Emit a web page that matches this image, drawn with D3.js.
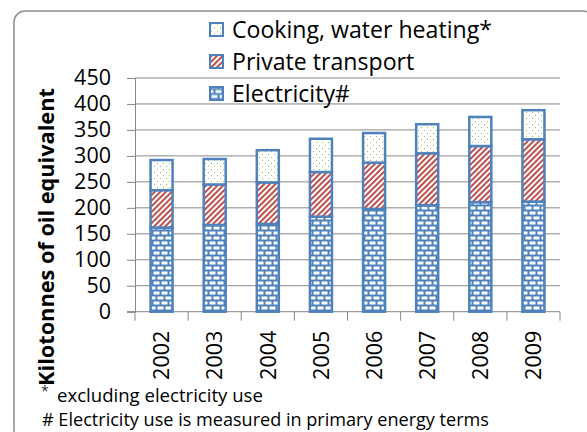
<!DOCTYPE html>
<html>
<head>
<meta charset="utf-8">
<script src="https://cdn.jsdelivr.net/npm/d3@7"></script>
<style>
  body { margin: 0; background: #fff; }
  svg { display: block; font-family: "Open Sans", sans-serif; }
</style>
</head>
<body>
<svg id="chart" width="587" height="432"></svg>
<script>
// values (kilotonnes of oil equivalent)
var years = ["2002", "2003", "2004", "2005", "2006", "2007", "2008", "2009"];
var electricity = [162, 167, 169, 183, 198, 205, 211, 212];
var transport = [72, 78, 80, 86, 89, 100, 108, 120];
var cooking = [58, 49, 62, 64, 57, 56, 56, 56];
var yTicks = [0, 50, 100, 150, 200, 250, 300, 350, 400, 450];
var seriesNames = ["Electricity#", "Private transport", "Cooking, water heating*"];

var svg = d3.select("#chart");
var blue = "#4f81bd", red = "#c0504d", green = "#9bbb59", grid = "#878787";

// shrink/grow a text so it spans the width seen in the picture
function fitWidth(sel, target) {
  var w = sel.node().getComputedTextLength();
  sel.attr("font-size", +sel.attr("font-size") * target / w);
}

// patterns
var defs = svg.append("defs");

var brick = defs.append("pattern").attr("id", "brick")
    .attr("patternUnits", "userSpaceOnUse").attr("width", 16).attr("height", 10);
brick.append("rect").attr("width", 16).attr("height", 10).attr("fill", blue);
[[1.5, 1.5], [9.5, 1.5], [5.5, 6.5], [13.5, 6.5], [-2.5, 6.5]].forEach(function(p) {
  brick.append("rect").attr("x", p[0]).attr("y", p[1])
      .attr("width", 6).attr("height", 3).attr("fill", "#fff");
});

var stripe = defs.append("pattern").attr("id", "stripe")
    .attr("patternUnits", "userSpaceOnUse").attr("width", 4).attr("height", 4)
    .attr("patternTransform", "rotate(45)");
stripe.append("rect").attr("width", 4).attr("height", 4).attr("fill", "#fff");
stripe.append("rect").attr("width", 2).attr("height", 4).attr("fill", red);

var dots = defs.append("pattern").attr("id", "dots")
    .attr("patternUnits", "userSpaceOnUse").attr("width", 6).attr("height", 6);
dots.append("rect").attr("width", 6).attr("height", 6).attr("fill", "#fff");
dots.append("rect").attr("x", 1).attr("y", 1).attr("width", 1).attr("height", 1).attr("fill", green);
dots.append("rect").attr("x", 4).attr("y", 4).attr("width", 1).attr("height", 1).attr("fill", green);

var fills = ["url(#brick)", "url(#stripe)", "url(#dots)"];

// chart frame
svg.append("rect")
    .attr("x", 14).attr("y", 11).attr("width", 580).attr("height", 430)
    .attr("rx", 11).attr("fill", "none").attr("stroke", "#8c8c8c").attr("stroke-width", 1.5);

var x = d3.scaleBand().domain(years).range([135, 560]);
var y = d3.scaleLinear().domain([0, 450]).range([311.7, 78]);

// gridlines + y ticks
var yAxis = svg.append("g").attr("transform", "translate(135,0)")
    .call(d3.axisLeft(y).tickValues(yTicks).tickSize(8).tickPadding(16));
yAxis.select(".domain").attr("stroke", grid);
yAxis.selectAll(".tick line").attr("stroke", grid);
yAxis.selectAll(".tick text").attr("font-size", 21.5).attr("fill", "#000")
    .attr("font-family", "'Open Sans', sans-serif");

svg.append("g").selectAll("line")
  .data(yTicks.slice(1))
  .enter().append("line")
    .attr("x1", 135).attr("x2", 560)
    .attr("y1", function(d) { return y(d); })
    .attr("y2", function(d) { return y(d); })
    .attr("stroke", grid);

// x axis
var xAxis = svg.append("g").attr("transform", "translate(0," + y(0) + ")");
xAxis.append("line").attr("x1", 127).attr("x2", 560).attr("stroke", grid);
xAxis.selectAll(".tk")
  .data(years.concat(["end"]))
  .enter().append("line")
    .attr("x1", function(d, i) { return i < years.length ? x(d) : x.range()[1]; })
    .attr("x2", function(d, i) { return i < years.length ? x(d) : x.range()[1]; })
    .attr("y1", 0).attr("y2", 9).attr("stroke", grid);
xAxis.selectAll(".lbl")
  .data(years)
  .enter().append("text")
    .attr("transform", function(d) {
      return "translate(" + (x(d) + x.bandwidth() / 2) + ",19) rotate(-90)";
    })
    .attr("text-anchor", "end").attr("dy", "0.36em")
    .attr("font-size", 21.5).text(function(d) { return d; });

// stacked bars
var rows = years.map(function(yr, i) {
  return { year: yr, e: electricity[i], t: transport[i], c: cooking[i] };
});
var stack = d3.stack().keys(["e", "t", "c"])(rows);
var barW = 22;

svg.append("g").selectAll("g")
  .data(stack)
  .enter().append("g")
    .attr("fill", function(d, i) { return fills[i]; })
  .selectAll("rect")
  .data(function(d) { return d; })
  .enter().append("rect")
    .attr("x", function(d) { return x(d.data.year) + x.bandwidth() / 2 - barW / 2; })
    .attr("y", function(d) { return y(d[1]); })
    .attr("width", barW)
    .attr("height", function(d) { return y(d[0]) - y(d[1]); })
    .attr("stroke", blue).attr("stroke-width", 2.5);

// legend (top entry first)
var legendRows = [
  { name: seriesNames[2], fill: fills[2] },
  { name: seriesNames[1], fill: fills[1] },
  { name: seriesNames[0], fill: fills[0] }
];
var leg = svg.append("g").selectAll("g")
  .data(legendRows)
  .enter().append("g")
    .attr("transform", function(d, i) { return "translate(210," + (29.5 + i * 32) + ")"; });
leg.append("rect")
    .attr("x", 0).attr("y", -6.5).attr("width", 13).attr("height", 13)
    .attr("fill", function(d) { return d.fill; })
    .attr("stroke", blue).attr("stroke-width", 2);
var legText = leg.append("text")
    .attr("x", 22).attr("dy", "0.36em").attr("font-size", 20)
    .text(function(d) { return d.name; });
fitWidth(d3.select(legText.nodes()[0]), 260);
legText.attr("font-size", d3.select(legText.nodes()[0]).attr("font-size"));

// axis title
var title = svg.append("text")
    .attr("transform", "translate(46,237) rotate(-90)")
    .attr("text-anchor", "middle").attr("dy", "0.35em")
    .attr("font-size", 20).attr("font-weight", "bold")
    .text("Kilotonnes of oil equivalent");
fitWidth(title, 298);

// footnotes
svg.append("text").attr("x", 41).attr("y", 396).attr("font-size", 14)
    .attr("fill", "#333").text("*");
var f1 = svg.append("text").attr("x", 57).attr("y", 402).attr("font-size", 18)
    .text("excluding electricity use");
fitWidth(f1, 206);
var f2 = svg.append("text").attr("x", 42).attr("y", 426).attr("font-size", 18)
    .text("# Electricity use is measured in primary energy terms");
fitWidth(f2, 447);
</script>
</body>
</html>
